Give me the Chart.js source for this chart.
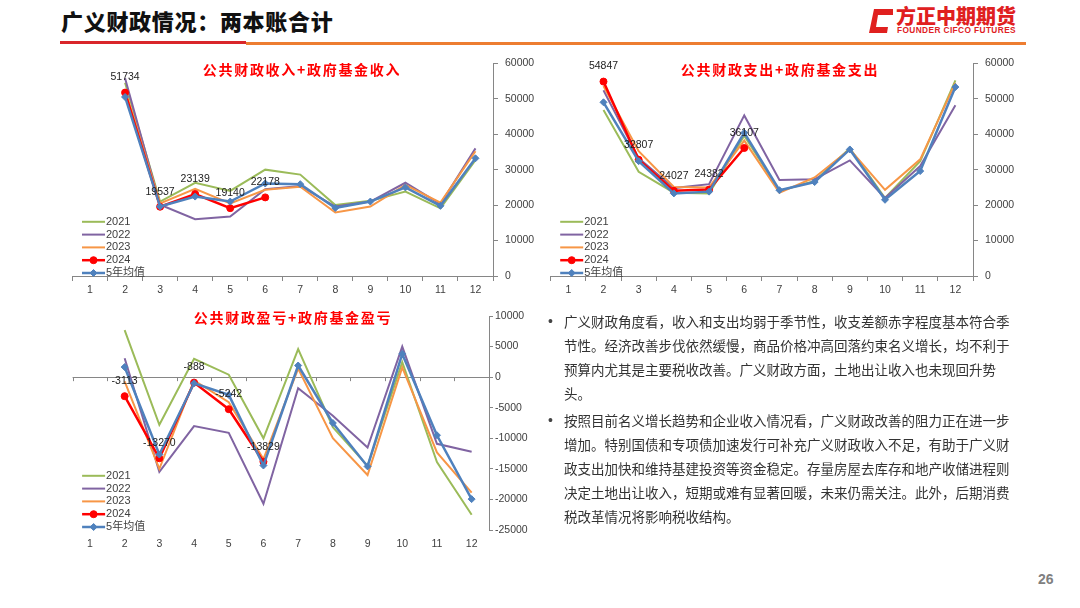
<!DOCTYPE html>
<html><head><meta charset="utf-8">
<script src="https://cdn.jsdelivr.net/npm/chart.js@4/dist/chart.umd.min.js"></script>
<style>
html,body{margin:0;padding:0;background:#fff;}
#page{position:relative;width:1080px;height:608px;overflow:hidden;background:#fff;font-family:"Noto Sans CJK SC","Noto Sans",sans-serif;}
.cv{position:absolute;}
.ctitle{position:absolute;transform:translate(-50%,-50%);white-space:nowrap;color:#ff0000;font-weight:700;font-size:14px;letter-spacing:1.7px;font-family:"Noto Sans CJK SC",sans-serif;}
#title{position:absolute;left:61px;top:4px;font-size:22px;font-weight:900;color:#111;font-family:"Noto Sans CJK SC",sans-serif;letter-spacing:0.7px;}
#bar1{position:absolute;left:60px;top:41px;width:186px;height:3px;background:#d9262a;}
#bar2{position:absolute;left:246px;top:42px;width:780px;height:3px;background:#ed7d31;}
#logoTxt{position:absolute;left:896px;top:3px;font-size:20px;font-weight:900;color:#e0201f;font-family:"Noto Sans CJK SC",sans-serif;line-height:25px;letter-spacing:0px;}
#logoEn{position:absolute;left:897px;top:25px;font-size:8.3px;font-weight:700;color:#e0201f;font-family:"Liberation Sans",sans-serif;letter-spacing:0.4px;}
#logoIcon{position:absolute;left:868px;top:8px;}
#text{position:absolute;left:548px;top:309px;font-size:13.5px;line-height:24px;color:#333;font-family:"Noto Sans CJK SC",sans-serif;white-space:nowrap;}
#text .p{position:relative;padding-left:16px;}
#text .p2{margin-top:3px;}
#text .b{position:absolute;left:0;top:0;font-size:14px;font-family:"Liberation Sans",sans-serif;color:#444;}
#pnum{position:absolute;left:1038px;top:571px;font-size:14px;font-weight:700;color:#808080;font-family:"Liberation Sans",sans-serif;}
</style></head>
<body><div id="page">
<div id="title">广义财政情况：两本账合计</div>
<div id="bar1"></div><div id="bar2"></div>
<svg id="logoIcon" width="26" height="26" viewBox="0 0 26 26"><path d="M6 1 L25 1 L25 7 L10 7 L8 19 L20 19 L19 25 L1 25 Z" fill="#e0201f"/></svg>
<div id="logoTxt">方正中期期货</div>
<div id="logoEn">FOUNDER CIFCO FUTURES</div>

<canvas id="c1" class="cv" style="left:62px;top:50px;width:480px;height:250px" width="480" height="250"></canvas>
<canvas id="c2" class="cv" style="left:540px;top:50px;width:483px;height:250px" width="483" height="250"></canvas>
<canvas id="c3" class="cv" style="left:62px;top:305px;width:480px;height:255px" width="480" height="255"></canvas>

<div class="ctitle" style="left:302px;top:69px">公共财政收入+政府基金收入</div>
<div class="ctitle" style="left:780px;top:69px">公共财政支出+政府基金支出</div>
<div class="ctitle" style="left:293px;top:317px">公共财政盈亏+政府基金盈亏</div>

<div id="text">
<div class="p"><span class="b">•</span>广义财政角度看，收入和支出均弱于季节性，收支差额赤字程度基本符合季<br>节性。经济改善步伐依然缓慢，商品价格冲高回落约束名义增长，均不利于<br>预算内尤其是主要税收改善。广义财政方面，土地出让收入也未现回升势<br>头。</div>
<div class="p p2"><span class="b">•</span>按照目前名义增长趋势和企业收入情况看，广义财政改善的阻力正在进一步<br>增加。特别国债和专项债加速发行可补充广义财政收入不足，有助于广义财<br>政支出加快和维持基建投资等资金稳定。存量房屋去库存和地产收储进程则<br>决定土地出让收入，短期或难有显著回暖，未来仍需关注。此外，后期消费<br>税改革情况将影响税收结构。</div>
</div>
<div id="pnum">26</div>
</div>
<script>
// ---------- data ----------
const months = ['1','2','3','4','5','6','7','8','9','10','11','12'];
const seriesNames = ['2021','2022','2023','2024','5年均值'];

const inc2021 = [null, 54500, 21000, 26300, 24000, 30000, 28600, 20000, 21200, 23800, 19100, 32700];
const inc2022 = [null, 55800, 20100, 16000, 16800, 24500, 25400, 19600, 21000, 26300, 20300, 36000];
const inc2023 = [null, 52500, 20500, 24600, 20500, 24300, 25200, 17900, 19600, 25700, 20700, 35200];
const inc2024 = [null, 51734, 19537, 23139, 19140, 22178];
const incAvg  = [null, 50500, 19600, 22400, 21000, 26100, 25900, 19200, 21000, 25000, 19800, 33200];

const exp2021 = [null, 46800, 29400, 23500, 23300, 39600, 24000, 26800, 36000, 22000, 32400, 55200];
const exp2022 = [null, 52400, 33200, 24800, 25900, 45300, 27100, 27300, 32600, 22000, 31000, 48200];
const exp2023 = [null, 53600, 35200, 25100, 25000, 38200, 23500, 27800, 35700, 24300, 32900, 54500];
const exp2024 = [null, 54847, 32807, 24027, 24382, 36107];
const expAvg  = [null, 49000, 32400, 23300, 23800, 40400, 24200, 26500, 35700, 21500, 29600, 53300];

const def2021 = [null, 7700, -7800, 3000, 400, -10000, 4600, -8200, -14500, 2450, -13900, -22500];
const def2022 = [null, 3100, -15500, -8000, -9100, -20700, -1800, -6300, -11500, 5000, -10900, -12200];
const def2023 = [null, -700, -15000, -550, -4100, -13400, 1400, -10000, -16000, 1600, -12300, -18900];
const def2024 = [null, -3113, -13270, -888, -5242, -13829];
const defAvg  = [null, 1650, -12650, -1000, -2900, -14450, 1900, -7500, -14600, 3800, -9500, -19950];

// ---------- styles ----------
const colors = ['#9bbb59','#8064a2','#f79646','#ff0000','#4f81bd'];
const AXIS = '#868686';
const TXT = '#404040';
const TICKFONT = {family:'"Liberation Sans", sans-serif', size:10.5};

function makeDatasets(arrs){
  return arrs.map((a,i)=>({
    label: seriesNames[i],
    data: a,
    borderColor: colors[i],
    backgroundColor: colors[i],
    borderWidth: i>=3 ? 2.5 : 2,
    pointRadius: i===3 ? 3.5 : (i===4 ? 3.5 : 0),
    pointStyle: i===4 ? 'rectRot' : 'circle',
    pointBorderWidth: 1,
    tension: 0,
    spanGaps: false,
    order: 5 - i,
    showValues: i===3
  }));
}

const legendPlugin = {
  id:'cornerLegend',
  afterDatasetsDraw(chart){
    const {ctx, chartArea} = chart;
    const ds = chart.data.datasets;
    const x0 = chartArea.left + 9.5, step = 12.8, yLast = chartArea.bottom - 3;
    ctx.save();
    ctx.textBaseline = 'middle';
    ds.forEach((d,i)=>{
      const y = yLast - (ds.length-1-i)*step;
      ctx.strokeStyle = d.borderColor; ctx.lineWidth = d.borderWidth;
      ctx.beginPath(); ctx.moveTo(x0,y); ctx.lineTo(x0+23,y); ctx.stroke();
      if (d.pointRadius>0){
        ctx.fillStyle = d.backgroundColor; ctx.strokeStyle = d.borderColor; ctx.lineWidth = 1;
        Chart.helpers.drawPoint(ctx,{pointStyle:d.pointStyle, radius:d.pointRadius, borderWidth:1, rotation:0}, x0+11.5, y);
      }
      ctx.fillStyle = TXT;
      ctx.font = '11px "Liberation Sans", "Noto Sans CJK SC", sans-serif';
      ctx.fillText(d.label, x0+24, y);
    });
    ctx.restore();
  }
};

const valuePlugin = {
  id:'valueLabels',
  afterDatasetsDraw(chart){
    const ctx = chart.ctx;
    ctx.save();
    ctx.font = '10.5px "Liberation Sans", sans-serif';
    ctx.fillStyle = '#222';
    ctx.textAlign = 'center'; ctx.textBaseline = 'middle';
    chart.data.datasets.forEach((d,i)=>{
      if (!d.showValues) return;
      const meta = chart.getDatasetMeta(i);
      meta.data.forEach((pt,j)=>{
        const v = d.data[j];
        if (v==null) return;
        ctx.fillText(String(v), pt.x, pt.y - 15);
      });
    });
    ctx.restore();
  }
};

const zeroTicksPlugin = {
  id:'zeroTicks',
  beforeDatasetsDraw(chart){
    if (!chart.options.plugins.zeroTicks || !chart.options.plugins.zeroTicks.on) return;
    const {ctx, chartArea} = chart;
    const xs = chart.scales.x, ys = chart.scales.y;
    const y0 = ys.getPixelForValue(0);
    const n = chart.data.labels.length;
    const bounds = [chartArea.left];
    for (let i=0;i<n-1;i++) bounds.push((xs.getPixelForValue(i)+xs.getPixelForValue(i+1))/2);
    bounds.push(chartArea.right);
    ctx.save();
    ctx.strokeStyle = AXIS; ctx.lineWidth = 1;
    bounds.forEach(b=>{ const x = Math.round(b)+0.5; ctx.beginPath(); ctx.moveTo(x,y0); ctx.lineTo(x,y0+4); ctx.stroke(); });
    ctx.restore();
  }
};

function baseOptions(cfg){
  return {
    responsive:false, animation:false, devicePixelRatio:1,
    layout:{padding:{left:cfg.padLeft, top:cfg.padTop, right:0, bottom:0}},
    plugins:{legend:{display:false}, tooltip:{enabled:false}, title:{display:false}, zeroTicks:{on:!!cfg.zero}},
    scales:{
      x:{
        type:'category', offset:true,
        grid: cfg.zero ? {display:false, drawTicks:false} : {offset:true, drawOnChartArea:false, drawTicks:true, tickLength:5, color:AXIS},
        border:{display:!cfg.zero, color:AXIS},
        ticks:{autoSkip:false, maxRotation:0, padding: cfg.zero ? 8 : 3, font:TICKFONT, color:TXT},
        afterFit:(s)=>{ s.height = cfg.xH; }
      },
      y:{
        position:'right', min:cfg.min, max:cfg.max,
        grid: cfg.zero ? {drawOnChartArea:true, color:(c)=> (c.tick && c.tick.value===0) ? AXIS : 'rgba(0,0,0,0)', tickColor:AXIS, tickLength:cfg.tickLen, drawTicks:true}
                       : {drawOnChartArea:false, color:AXIS, tickLength:cfg.tickLen},
        border:{display:true, color:AXIS},
        ticks:{stepSize:cfg.step, padding:cfg.tickPad, font:TICKFONT, color:TXT, callback:(v)=>String(v)},
        afterFit:(s)=>{ s.width = cfg.yW; }
      }
    }
  };
}

const plugins = [zeroTicksPlugin, valuePlugin, legendPlugin];

new Chart(document.getElementById('c1'), {
  type:'line',
  data:{labels:months, datasets:makeDatasets([inc2021,inc2022,inc2023,inc2024,incAvg])},
  options:baseOptions({padLeft:10.5, padTop:12, xH:24, yW:49, min:0, max:60000, step:10000, tickLen:5, tickPad:7}),
  plugins
});
new Chart(document.getElementById('c2'), {
  type:'line',
  data:{labels:months, datasets:makeDatasets([exp2021,exp2022,exp2023,exp2024,expAvg])},
  options:baseOptions({padLeft:10.7, padTop:12, xH:24, yW:50, min:0, max:60000, step:10000, tickLen:5, tickPad:7}),
  plugins
});
new Chart(document.getElementById('c3'), {
  type:'line',
  data:{labels:months, datasets:makeDatasets([def2021,def2022,def2023,def2024,defAvg])},
  options:baseOptions({padLeft:10.6, padTop:11, xH:30, yW:53, min:-25000, max:10000, step:5000, tickLen:4, tickPad:2, zero:true}),
  plugins
});
</script>
</body></html>
